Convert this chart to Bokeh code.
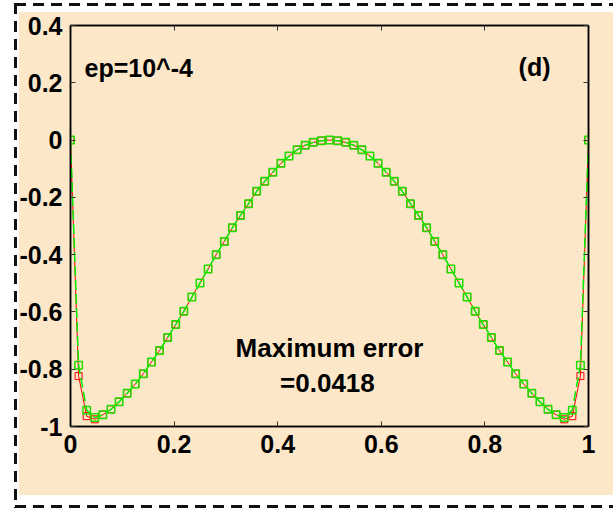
from bokeh.plotting import figure
from bokeh.models import Range1d, LinearAxis, FixedTicker, Label
from bokeh.embed import file_html
from bokeh.resources import INLINE

# grid: 65 nodes on [0, 1]
x_nodes = [i / 64 for i in range(65)]

# computed solution (red) and reference solution (green)
u_red = [
    0.0, -0.824, -0.964, -0.975, -0.959, -0.940, -0.914, -0.884, -0.852,
    -0.816, -0.775, -0.735, -0.689, -0.644, -0.598, -0.548, -0.499,
    -0.450, -0.400, -0.354, -0.306, -0.263, -0.222, -0.179, -0.144,
    -0.112, -0.081, -0.056, -0.034, -0.018, -0.008, -0.002, 0.0,
    -0.002, -0.008, -0.018, -0.034, -0.056, -0.081, -0.112, -0.144,
    -0.179, -0.222, -0.263, -0.306, -0.354, -0.400, -0.450, -0.499,
    -0.548, -0.598, -0.644, -0.689, -0.735, -0.775, -0.816, -0.852,
    -0.884, -0.914, -0.940, -0.959, -0.975, -0.964, -0.824, 0.0,
]
u_green = [
    0.0, -0.786, -0.943, -0.969, -0.959, -0.940, -0.914, -0.884, -0.852,
    -0.816, -0.775, -0.735, -0.689, -0.644, -0.598, -0.548, -0.499,
    -0.450, -0.400, -0.354, -0.306, -0.263, -0.222, -0.179, -0.144,
    -0.112, -0.081, -0.056, -0.034, -0.018, -0.008, -0.002, 0.0,
    -0.002, -0.008, -0.018, -0.034, -0.056, -0.081, -0.112, -0.144,
    -0.179, -0.222, -0.263, -0.306, -0.354, -0.400, -0.450, -0.499,
    -0.548, -0.598, -0.644, -0.689, -0.735, -0.775, -0.816, -0.852,
    -0.884, -0.914, -0.940, -0.959, -0.969, -0.943, -0.786, 0.0,
]

x_ticks = [0, 0.2, 0.4, 0.6, 0.8, 1]
x_tick_labels = ["0", "0.2", "0.4", "0.6", "0.8", "1"]
y_ticks = [-1, -0.8, -0.6, -0.4, -0.2, 0, 0.2, 0.4]
y_tick_labels = ["-1", "-0.8", "-0.6", "-0.4", "-0.2", "0", "0.2", "0.4"]

BEIGE = "#FCE8C9"
FONT = "Liberation Sans"

# page backdrop: beige panel on white with a dashed border (left, top, bottom)
dash_h = "repeating-linear-gradient(to right, #111 0 11px, transparent 11px 18px)"
dash_v = "repeating-linear-gradient(to bottom, #111 0 11px, transparent 11px 18px)"
backdrop = ", ".join([
    f"{dash_h} 15px 3px / 600px 3px no-repeat",
    f"{dash_h} 15px 505px / 600px 3px no-repeat",
    f"{dash_v} 14px 3px / 3px 505px no-repeat",
    f"linear-gradient({BEIGE}, {BEIGE}) 19px 12px / 594px 483px no-repeat",
    "white",
])

p = figure(
    width=613, height=508,
    x_range=Range1d(0, 1), y_range=Range1d(-1, 0.4),
    output_backend="svg", toolbar_location=None,
    min_border_left=70, min_border_right=25,
    min_border_top=25, min_border_bottom=82,
    background_fill_color=BEIGE, border_fill_alpha=0,
    outline_line_color="black", outline_line_width=1.5,
    styles={"background": backdrop},
)
p.xgrid.visible = False
p.ygrid.visible = False


def style_axis(ax, ticks, labels, standoff):
    ax.ticker = FixedTicker(ticks=ticks)
    ax.major_label_overrides = {t: s for t, s in zip(ticks, labels)}
    ax.axis_line_color = "black"
    ax.axis_line_width = 1.5
    ax.major_tick_in = 5
    ax.major_tick_out = 0
    ax.major_tick_line_color = "#333333"
    ax.minor_tick_line_color = None
    ax.major_label_standoff = standoff
    ax.major_label_text_font = FONT
    ax.major_label_text_font_style = "bold"
    ax.major_label_text_color = "black"
    ax.major_label_text_font_size = "25px"


style_axis(p.xaxis[0], x_ticks, x_tick_labels, 8)
style_axis(p.yaxis[0], y_ticks, y_tick_labels, 8)

# mirrored tick marks on the top and right edges, without labels
top_axis = LinearAxis()
style_axis(top_axis, x_ticks, ["" for _ in x_ticks], 0)
p.add_layout(top_axis, "above")
right_axis = LinearAxis()
style_axis(right_axis, y_ticks, ["" for _ in y_ticks], 0)
p.add_layout(right_axis, "right")

# red: solid line with open squares
p.line(x_nodes, u_red, line_color="red", line_width=1)
p.scatter(x_nodes, u_red, marker="square", size=7, fill_alpha=0,
          line_color="red", line_width=1)

# green: dashed line with open squares
p.line(x_nodes, u_green, line_color="#00EE00", line_width=1.5, line_dash="10 4")
p.scatter(x_nodes, u_green, marker="square", size=7.5, fill_alpha=0,
          line_color="#22DD00", line_width=1.5)

label_kw = dict(text_font=FONT, text_font_style="bold", text_color="black")
p.add_layout(Label(x=0.027, y=0.2526, text="ep=10^-4", text_font_size="25px",
                   text_baseline="alphabetic", **label_kw))
p.add_layout(Label(x=0.865, y=0.256, text="(d)", text_font_size="25px",
                   text_baseline="alphabetic", **label_kw))
p.add_layout(Label(x=0.5, y=-0.725, text="Maximum error", text_font_size="26px",
                   text_align="center", text_baseline="alphabetic", **label_kw))
p.add_layout(Label(x=0.496, y=-0.848, text="=0.0418", text_font_size="26px",
                   text_align="center", text_baseline="alphabetic", **label_kw))

open("out.html", "w").write(file_html(p, INLINE))
